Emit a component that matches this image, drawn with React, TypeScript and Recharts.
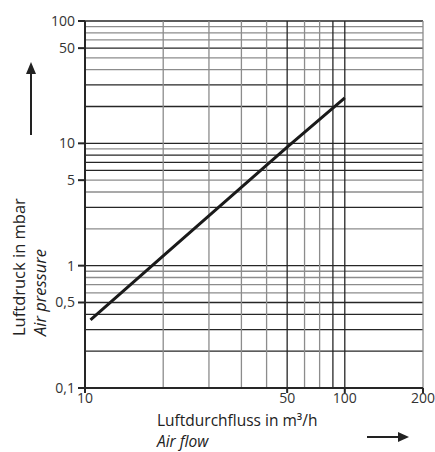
import React from "react";
import { LineChart, Line, XAxis, YAxis, ReferenceLine } from "recharts";

// air flow (m³/h) vs air pressure (mbar)
const flow = [10.5, 20, 60, 100];
const pressure = [0.36, 1.2, 9.3, 23.5];

// tick labels as printed; the source prints "50" on its 60 gridline
const xTicks = [10, 60, 100, 200];
const xTickLabels = ["10", "50", "100", "200"];
const yTicks = [0.1, 0.5, 1, 5, 10, 60, 100];
const yTickLabels = ["0,1", "0,5", "1", "5", "10", "50", "100"];

// gridlines
const xGridDark = [60, 90, 100];
const xGridLight = [20, 30, 40, 50, 70, 80, 200];
const yGridDark = [100, 60, 30, 20, 10, 8, 7, 6, 3, 1, 0.5, 0.4, 0.3, 0.2];
const yGridLight = [90, 80, 70, 50, 40, 9, 5, 4, 2, 0.9, 0.8, 0.7, 0.6];

const data = flow.map((f, i) => ({ flow: f, pressure: pressure[i] }));

const font = "'Open Sans', 'Noto Sans', sans-serif";
const dark = "#262626";
const light = "#8c8c8c";

export default function App() {
  const xLabel = (v) => xTickLabels[xTicks.indexOf(v)] ?? "";
  const yLabel = (v) => yTickLabels[yTicks.indexOf(v)] ?? "";

  return (
    <div style={{ position: "absolute", left: 0, top: 0, width: 435, height: 452, background: "#fff" }}>
      <LineChart
        width={435}
        height={452}
        data={data}
        margin={{ top: 21, right: 12, bottom: 34, left: 25 }}
      >
        {yGridLight.map((v) => (
          <ReferenceLine key={"yl" + v} y={v} stroke={light} strokeWidth={1.3} />
        ))}
        {yGridDark.map((v) => (
          <ReferenceLine key={"yd" + v} y={v} stroke={dark} strokeWidth={1.3} />
        ))}
        {xGridLight.map((v) => (
          <ReferenceLine key={"xl" + v} x={v} stroke={light} strokeWidth={1.3} />
        ))}
        {xGridDark.map((v) => (
          <ReferenceLine key={"xd" + v} x={v} stroke={dark} strokeWidth={1.3} />
        ))}
        <XAxis
          dataKey="flow"
          type="number"
          scale="log"
          domain={[10, 200]}
          ticks={xTicks}
          tickFormatter={xLabel}
          allowDataOverflow
          height={30}
          tickSize={5}
          tickMargin={0}
          stroke={dark}
          strokeWidth={2}
          tick={{ fill: "#333", fontSize: 14, fontFamily: font }}
        />
        <YAxis
          type="number"
          scale="log"
          domain={[0.1, 100]}
          ticks={yTicks}
          tickFormatter={yLabel}
          allowDataOverflow
          width={60}
          tickSize={7}
          tickMargin={3}
          stroke={dark}
          strokeWidth={2}
          tick={{ fill: "#333", fontSize: 14, fontFamily: font }}
        />
        <Line
          dataKey="pressure"
          type="linear"
          stroke="#1a1a1a"
          strokeWidth={3}
          dot={false}
          isAnimationActive={false}
        />
      </LineChart>
      <svg
        width={435}
        height={452}
        style={{ position: "absolute", left: 0, top: 0, pointerEvents: "none" }}
      >
        <g fontFamily={font} fill="#222">
          <text x={157} y={425.5} fontSize={15.5}>
            Luftdurchfluss in m³/h
          </text>
          <text x={157} y={447} fontSize={15.5} fontStyle="italic">
            Air flow
          </text>
          <text transform="translate(25,336) rotate(-90)" fontSize={16.5}>
            Luftdruck in mbar
          </text>
          <text transform="translate(46,336) rotate(-90)" fontSize={16.5} fontStyle="italic">
            Air pressure
          </text>
        </g>
        <line x1={367} y1={437} x2={398} y2={437} stroke="#222" strokeWidth={2} />
        <polygon points="398,432 409,437 398,442" fill="#222" />
        <line x1={31} y1={135} x2={31} y2={74} stroke="#222" strokeWidth={2} />
        <polygon points="26,74 31,62 36,74" fill="#222" />
      </svg>
    </div>
  );
}
